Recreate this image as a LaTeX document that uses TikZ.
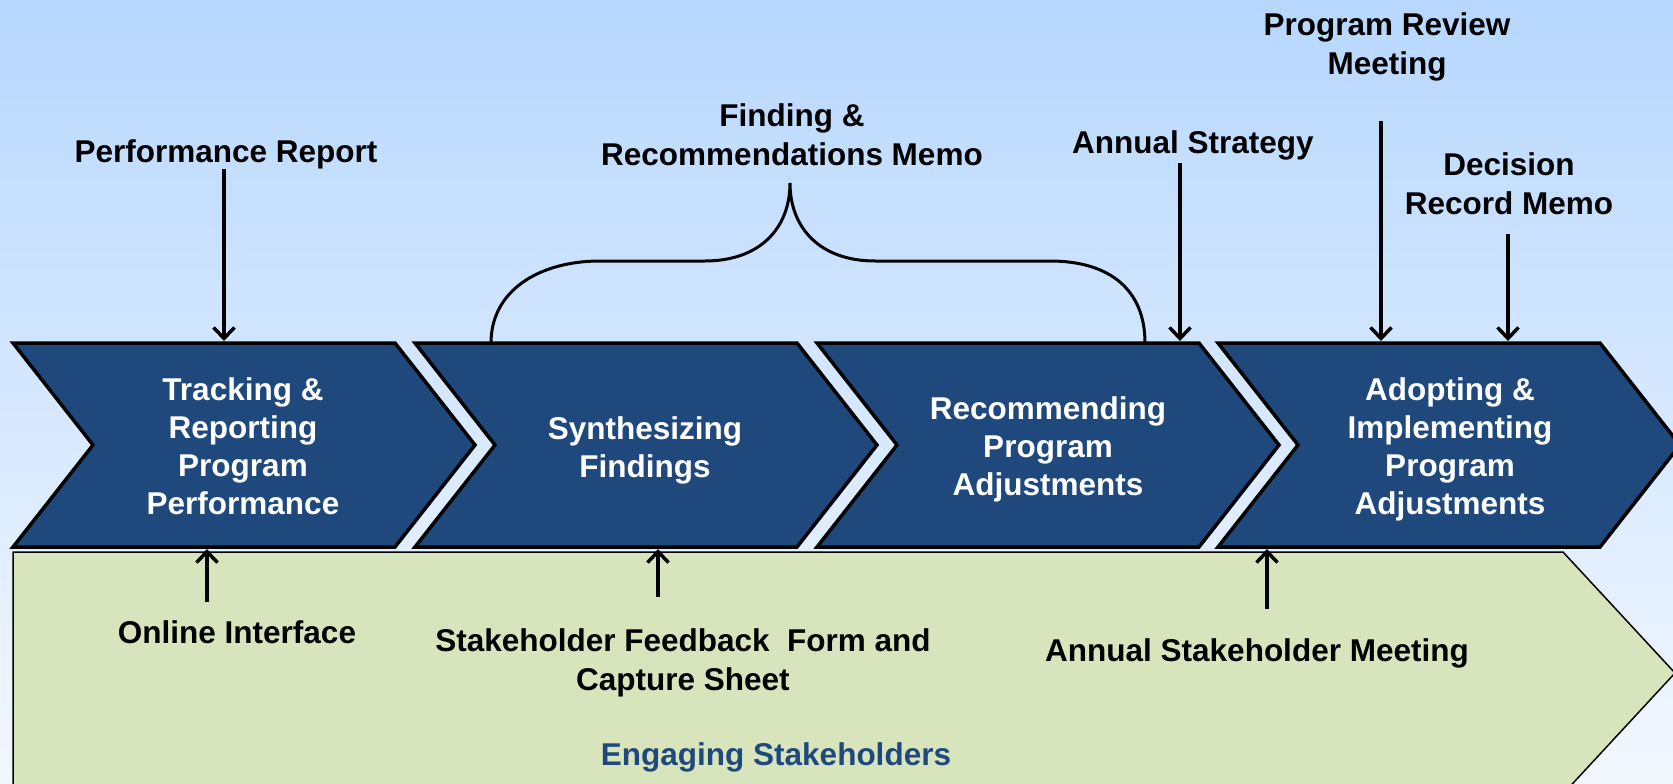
\documentclass[tikz,border=0pt]{standalone}
\usepackage{fontspec}
\setmainfont{Liberation Sans}
\usetikzlibrary{arrows.meta}
\definecolor{chev}{RGB}{31,73,125}
\definecolor{grn}{RGB}{216,228,188}
\definecolor{bgtop}{RGB}{183,215,254}
\definecolor{bgbot}{RGB}{243,248,255}
\begin{document}
\begin{tikzpicture}[x=1pt,y=-1pt,
  chevbox/.style={draw=black,line width=3.5pt,fill=chev,line join=miter},
  ctext/.style={text=white,font=\fontsize{31.5}{38}\selectfont\bfseries,align=center,inner sep=0pt},
  lbl/.style={text=black,font=\fontsize{31.5}{39}\selectfont\bfseries,align=center,inner sep=0pt},
  arr/.style={line width=3.5pt,-{Straight Barb[length=11pt,width=21pt]}},
  brace/.style={draw=black,line width=3pt}]
\shade[top color=bgtop,bottom color=bgbot] (0,0) rectangle (1673,784);
\useasboundingbox (0,0) rectangle (1673,784);
\begin{scope}
\clip (0,0) rectangle (1673,784);
% green band
\draw[fill=grn,draw=black,line width=1.5pt] (13,552) -- (1563,552) -- (1675,673) -- (1563,794) -- (13,794) -- cycle;
% chevrons
\foreach \x in {13,415,817,1218}{
  \draw[chevbox] (\x,343) -- ({\x+382},343) -- ({\x+462},445) -- ({\x+382},547) -- (\x,547) -- ({\x+80},445) -- cycle;
}
\end{scope}
% chevron texts
\node[ctext] (c1) at (243,446) {Tracking \&\\Reporting\\Program\\Performance};
\node[ctext] (c2) at (645,450) {Synthesizing\\Findings};
\node[ctext] (c3) at (1048,449) {Recommending\\Program\\Adjustments};
\node[ctext] (c4) at (1450,449) {Adopting \&\\Implementing\\Program\\Adjustments};
% brace
\draw[brace] (491,343) .. controls (491,290) and (540,261) .. (600,261) -- (705,261)
  .. controls (760,261) and (790,228) .. (790,183)
  .. controls (790,228) and (820,261) .. (875,261) -- (1050,261)
  .. controls (1110,261) and (1145,290) .. (1145,343);
% top labels
\node[lbl] (perf) at (226,154) {Performance Report};
\node[lbl] (frm) at (792,135) {Finding \&\\Recommendations Memo};
\node[lbl] (as) at (1193,145) {Annual Strategy};
\node[lbl] (prm) at (1387,47) {Program Review\\Meeting};
\node[lbl] (drm) at (1509,184) {Decision\\Record Memo};
\coordinate (perfT) at (224,341);
\coordinate (asT) at (1180,341);
\coordinate (prmT) at (1381,341);
\coordinate (drmT) at (1508,341);
\draw[arr] (perf.south -| perfT) -- (perfT);
\draw[arr,shorten <=3pt] (as.south -| asT) -- (asT);
\draw[arr,shorten <=40pt] (prm.south -| prmT) -- (prmT);
\draw[arr,shorten <=19pt] (drm.south -| drmT) -- (drmT);
% bottom labels
\node[lbl] (oi) at (237,632) {Online Interface};
\node[lbl] (sf) at (683,663) {Stakeholder Feedback\ \ Form and\\Capture Sheet};
\node[lbl] (asm) at (1257,653) {Annual Stakeholder Meeting};
\node[lbl,text=chev] (es) at (776,757) {Engaging Stakeholders};
\coordinate (oiT) at (207,549);
\coordinate (sfT) at (658,549);
\coordinate (asmT) at (1267,549);
\draw[arr,shorten <=18pt] (oi.north -| oiT) -- (oiT);
\draw[arr,shorten <=32pt] (sf.north -| sfT) -- (sfT);
\draw[arr,shorten <=29pt] (asm.north -| asmT) -- (asmT);
\end{tikzpicture}
\end{document}
